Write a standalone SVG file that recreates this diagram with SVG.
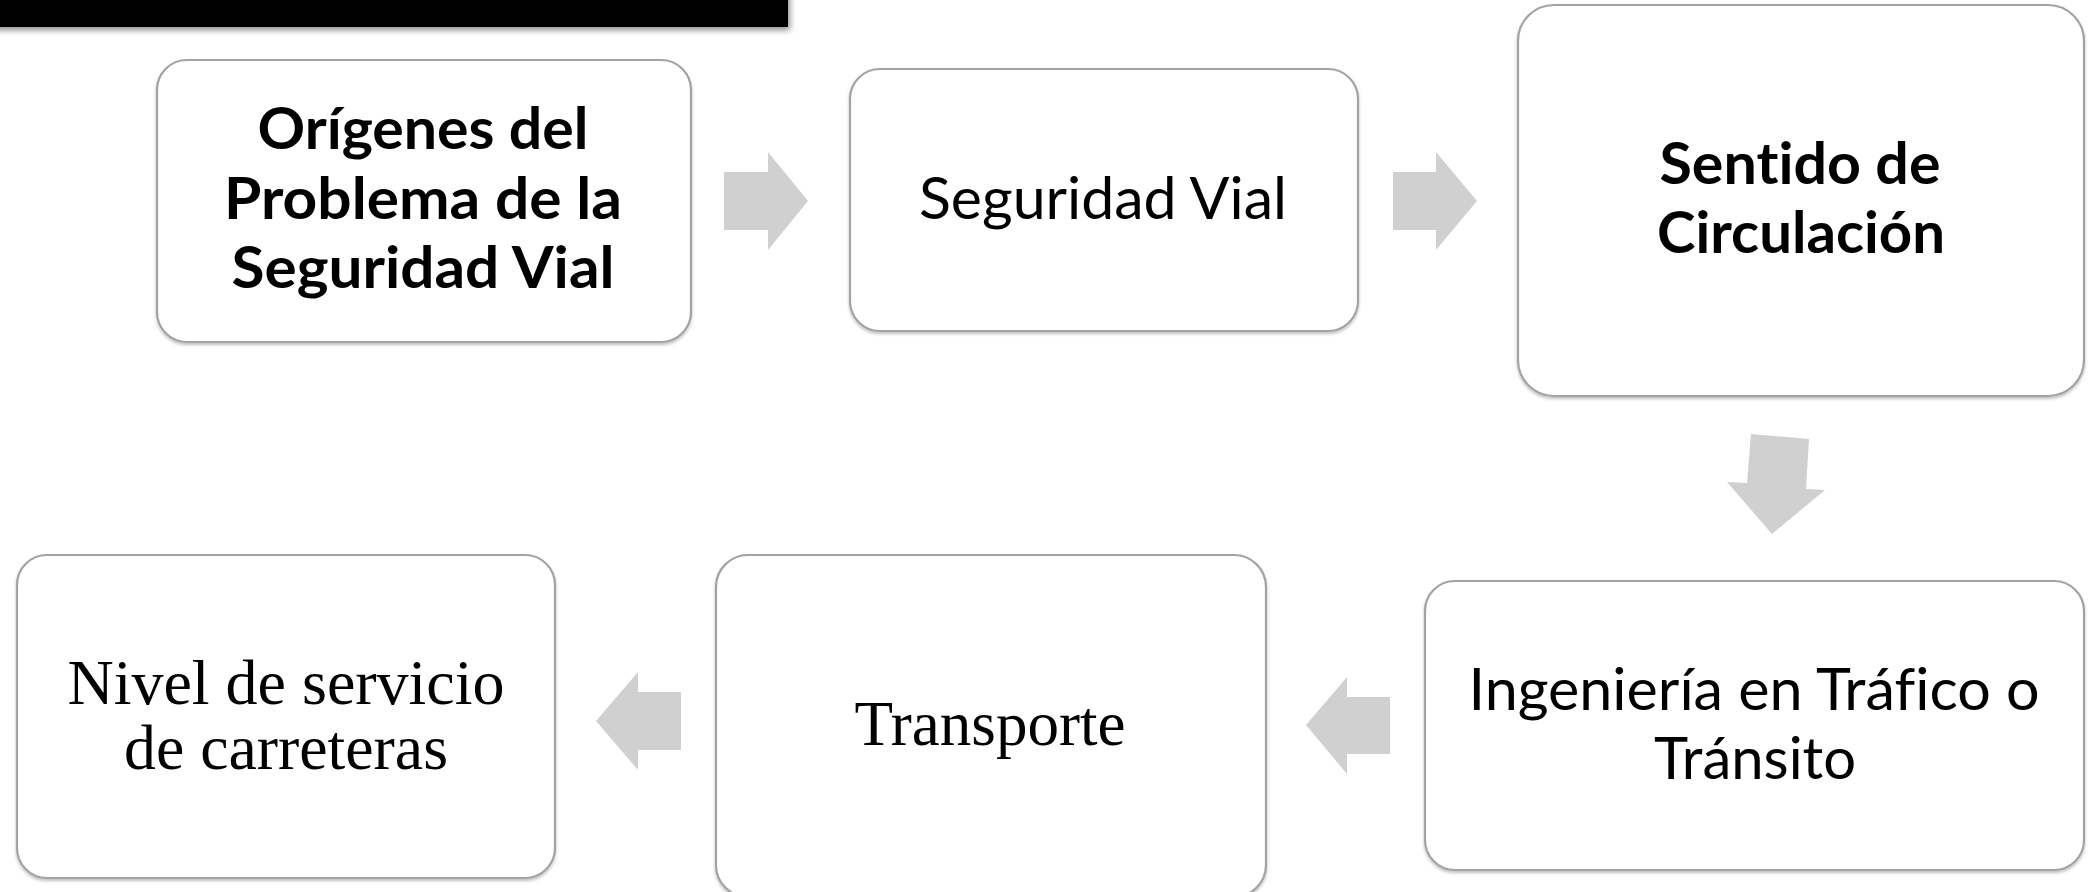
<svg xmlns="http://www.w3.org/2000/svg" width="2092" height="892" viewBox="0 0 2092 892">
<defs>
<filter id="sh" x="-5%" y="-5%" width="110%" height="115%">
<feDropShadow dx="0" dy="2" stdDeviation="1.5" flood-color="#000" flood-opacity="0.25"/>
</filter>
<filter id="barsh" x="-5%" y="-50%" width="110%" height="250%">
<feDropShadow dx="2" dy="3" stdDeviation="3" flood-color="#000" flood-opacity="0.45"/>
</filter>
</defs>
<style>
.box{fill:#fff;stroke:#a3a3a3;stroke-width:2.2}
.arr{fill:#d0d0d0}
text{font-variant-ligatures:none;font-feature-settings:"liga" 0,"clig" 0,"dlig" 0}
.sb{font-family:Lato,"Liberation Sans",sans-serif;font-weight:bold;font-size:58px;fill:#000;text-anchor:middle}
.sr{font-family:Lato,"Liberation Sans",sans-serif;font-size:58px;fill:#000;text-anchor:middle}
.tr{font-family:"Liberation Serif","Times New Roman",serif;font-size:64px;fill:#000;text-anchor:middle}
</style>
<rect x="-10" y="-10" width="798" height="37" fill="#000" filter="url(#barsh)"/>
<g id="connectors">
<polygon class="arr" points="724,172 768,172 768,152 808,201 768,250 768,230 724,230"/>
<polygon class="arr" points="1393,172 1436,172 1436,152 1477,201 1436,250 1436,230 1393,230"/>
<polygon class="arr" points="1751,434 1809,439 1806,489 1825,490 1772,534 1727,482 1747,483"/>
<polygon class="arr" points="1390,697 1347,697 1347,677 1306,725 1347,774 1347,754 1390,754"/>
<polygon class="arr" points="681,692 638,692 638,672 596,721 638,770 638,750 681,750"/>
</g>
<g id="node1">
<rect class="box" x="157" y="60" width="534" height="282" rx="30" filter="url(#sh)"/>
<text class="sb" x="423" y="149" textLength="331" lengthAdjust="spacingAndGlyphs">Orígenes del</text>
<text class="sb" x="423" y="219" textLength="398" lengthAdjust="spacingAndGlyphs">Problema de la</text>
<text class="sb" x="423" y="288" textLength="383" lengthAdjust="spacingAndGlyphs">Seguridad Vial</text>
</g>
<g id="node2">
<rect class="box" x="850" y="69" width="508" height="262" rx="30" filter="url(#sh)"/>
<text class="sr" x="1103" y="219" textLength="368" lengthAdjust="spacingAndGlyphs">Seguridad Vial</text>
</g>
<g id="node3">
<rect class="box" x="1518" y="5" width="566" height="391" rx="36" filter="url(#sh)"/>
<text class="sb" x="1800" y="184" textLength="281" lengthAdjust="spacingAndGlyphs">Sentido de</text>
<text class="sb" x="1801" y="253" textLength="288" lengthAdjust="spacingAndGlyphs">Circulación</text>
</g>
<g id="node4">
<rect class="box" x="1425" y="581" width="659" height="289" rx="30" filter="url(#sh)"/>
<text class="sr" x="1754" y="710" textLength="571" lengthAdjust="spacingAndGlyphs">Ingeniería en Tráfico o</text>
<text class="sr" x="1755" y="779" textLength="202" lengthAdjust="spacingAndGlyphs">Tránsito</text>
</g>
<g id="node5">
<rect class="box" x="716" y="555" width="550" height="342" rx="32" filter="url(#sh)"/>
<text class="tr" x="990" y="745" textLength="271" lengthAdjust="spacingAndGlyphs">Transporte</text>
</g>
<g id="node6">
<rect class="box" x="17" y="555" width="538" height="323" rx="30" filter="url(#sh)"/>
<text class="tr" x="286" y="704" textLength="437" lengthAdjust="spacingAndGlyphs">Nivel de servicio</text>
<text class="tr" x="286" y="769" textLength="324" lengthAdjust="spacingAndGlyphs">de carreteras</text>
</g>
</svg>
